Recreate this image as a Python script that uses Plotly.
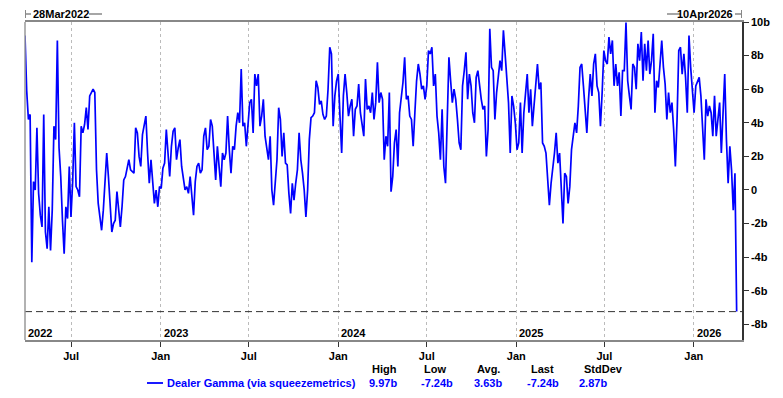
import pandas as pd
import plotly.graph_objects as go

# ---- data (half-weekly readings, billions) ----
start_date = "2022-03-28"
end_date = "2026-04-10"
gamma_values = [
    9.2, 5.9, 4.2, 4.5, -4.3, 0.5, 0.0, 3.7, -0.2, -1.5,
    -2.2, 4.5, -2.5, -3.5, -1.0, -3.6, -1.2, 3.8, 3.0, 8.9,
    2.5, 0.8, -1.8, -3.8, -1.0, -1.7, 1.4, -1.6, 0.5, 4.0,
    0.2, 0.0, -0.4, 3.8, 3.4, 3.9, 4.9, 3.6, 5.6, 5.8,
    6.0, 5.8, 1.2, -0.8, -1.8, -2.4, -1.2, 0.5, 2.2, 0.8,
    -0.6, -2.5, -2.0, -1.8, -0.1, -1.2, -2.2, -1.0, 0.6, 0.8,
    1.4, 1.8, 1.2, 1.1, 1.0, 3.7, 3.4, 2.0, 1.4, 3.3,
    3.8, 4.4, 2.2, 0.4, 1.8, 0.5, -0.8, 0.0, -1.0, 0.2,
    0.1, 1.3, 1.6, 3.6, 2.4, 0.8, 2.6, 3.5, 3.7, 1.8,
    2.5, 3.0, 1.4, 0.8, 0.0, 0.2, -0.2, 0.8, -0.6, -1.5,
    0.5, 1.4, 1.6, 1.0, 1.2, 3.2, 3.7, 2.4, 2.6, 4.2,
    3.8, 1.8, 0.6, 2.6, 1.4, 0.2, 2.2, 1.8, 2.2, 4.4,
    2.4, 1.0, 2.6, 2.4, 3.8, 4.6, 4.0, 7.2, 3.8, 4.0,
    2.6, 4.2, 5.2, 5.4, 3.4, 6.9, 6.2, 6.9, 3.8, 4.4,
    5.4, 3.2, 2.6, 1.8, 3.2, 0.0, -0.9, 0.8, 1.8, 4.9,
    4.2, 2.0, 3.4, 1.6, 1.5, -0.2, -1.4, 0.4, -0.6, 0.4,
    1.2, 3.4, 1.8, 1.0, 0.0, -1.6, 0.0, 3.0, 4.3, 4.4,
    4.6, 6.5, 6.1, 5.1, 5.3, 4.5, 4.2, 4.4, 6.0, 8.5,
    8.1, 3.8, 5.6, 6.5, 6.9, 4.4, 2.2, 5.6, 6.9, 5.8,
    4.4, 5.0, 5.4, 3.2, 4.8, 5.0, 6.3, 4.6, 3.8, 3.2,
    6.6, 4.8, 5.0, 4.6, 5.8, 4.2, 5.2, 7.6, 5.2, 5.8,
    5.4, 1.8, 3.2, 2.6, 5.8, -0.1, 0.8, 2.8, 3.6, 1.4,
    4.6, 5.6, 6.4, 7.9, 5.4, 5.6, 4.4, 4.2, 2.6, 4.6,
    6.5, 7.5, 6.9, 6.0, 6.2, 5.4, 6.2, 8.3, 8.1, 8.5,
    6.2, 6.9, 4.4, 3.4, 1.8, 4.8, 1.4, 0.4, 4.6, 7.9,
    6.5, 5.2, 6.0, 5.4, 4.2, 2.8, 2.4, 6.2, 7.1, 8.2,
    5.4, 6.9, 6.2, 4.6, 4.0, 6.7, 7.1, 6.2, 5.4, 4.8,
    5.0, 2.0, 3.6, 9.6, 7.3, 7.1, 4.2, 5.8, 6.9, 7.7,
    7.1, 9.5, 8.1, 6.9, 5.2, 2.2, 5.6, 5.0, 4.0, 2.4,
    2.8, 5.2, 2.2, 4.6, 5.8, 6.9, 4.6, 6.0, 3.8, 5.0,
    6.2, 7.5, 6.0, 6.4, 2.8, 2.6, 2.2, 0.6, -0.9, 0.4,
    1.2, 2.2, 3.4, 1.6, 2.2, -0.2, -2.0, 1.0, 0.8, -0.8,
    0.2, 2.4, 3.4, 4.0, 3.4, 5.0, 7.3, 7.5, 6.2, 5.0,
    3.4, 5.4, 6.9, 5.6, 7.5, 8.1, 6.2, 5.8, 3.8, 5.8,
    8.3, 7.7, 7.5, 9.1, 8.1, 8.9, 6.2, 7.5, 6.2, 7.0,
    4.4, 7.1, 7.1, 9.97, 6.5, 5.6, 4.8, 7.5, 7.3, 6.0,
    8.7, 7.7, 9.4, 6.5, 8.7, 7.1, 8.9, 6.9, 7.7, 9.3,
    4.6, 6.5, 6.1, 7.5, 8.9, 7.3, 6.3, 4.2, 5.8, 4.6,
    5.2, 3.6, 1.4, 4.2, 8.3, 8.5, 6.9, 8.1, 6.7, 4.6,
    9.2, 7.3, 6.1, 4.6, 6.2, 6.5, 6.7, 5.6, 3.2, 1.8,
    5.4, 4.4, 5.0, 4.6, 3.2, 5.6, 3.2, 4.2, 5.2, 2.2,
    4.8, 6.9, 3.0, 0.4, 2.6, 1.2, -1.2, 1.0, -7.24,
]
gamma_dates = pd.date_range(start_date, periods=len(gamma_values), freq="84h")

series_name = "Dealer Gamma (via squeezemetrics)"
stat_headers = ["High", "Low", "Avg.", "Last", "StdDev"]
stat_values = ["9.97b", "-7.24b", "3.63b", "-7.24b", "2.87b"]

x_tick_dates = ["2022-07-01", "2023-01-01", "2023-07-01", "2024-01-01", "2024-07-01",
                "2025-01-01", "2025-07-01", "2026-01-01"]
x_tick_text = ["Jul", "Jan", "Jul", "Jan", "Jul", "Jan", "Jul", "Jan"]
year_labels = ["2022", "2023", "2024", "2025", "2026"]
year_dates = [start_date, "2023-01-01", "2024-01-01", "2025-01-01", "2026-01-01"]
y_tick_vals = [-8, -6, -4, -2, 0, 2, 4, 6, 8, 10]
y_tick_text = ["-8b", "-6b", "-4b", "-2b", "0", "2b", "4b", "6b", "8b", "10b"]
top_left_label = "28Mar2022"
top_right_label = "10Apr2026"

# ---- layout geometry (page pixels; page body has an 8px margin) ----
OFF = 8
W, H = 783 - OFF, 398 - OFF
L, R, T, B = 25, 742, 22, 340   # target plot-area edges in page pixels
FONT = "Liberation Sans"
BLUE = "#0000FF"


def px(xp):
    return (xp - L) / (R - L)


def py(yp):
    return (B - yp) / (B - T)


fig = go.Figure()
fig.add_trace(go.Scatter(
    x=gamma_dates, y=gamma_values, mode="lines",
    line=dict(color=BLUE, width=1.7), showlegend=False, hoverinfo="skip",
))

last_value = gamma_values[-1]

shapes = []
shapes.append(dict(type="line", xref="paper", yref="y", x0=0, x1=1, y0=last_value, y1=last_value,
                   line=dict(color="#333333", width=1, dash="7px,4px")))
shapes.append(dict(type="line", xref="paper", yref="paper", x0=0, x1=0, y0=0, y1=1,
                   line=dict(color="#999999", width=1.5)))
for (a, b_) in [(25, 31), (89, 102), (667, 680), (735, 742)]:
    shapes.append(dict(type="line", xref="paper", yref="paper", x0=px(a), x1=px(b_),
                       y0=py(14), y1=py(14), line=dict(color="#888888", width=1.5)))
for xx in [25.5, 741.5]:
    shapes.append(dict(type="line", xref="paper", yref="paper", x0=px(xx), x1=px(xx),
                       y0=py(10), y1=py(18), line=dict(color="#888888", width=1)))
shapes.append(dict(type="line", xref="paper", yref="paper", x0=px(147), x1=px(163),
                   y0=py(383), y1=py(383), line=dict(color=BLUE, width=1.8)))

annotations = []
annotations.append(dict(text=top_left_label, xref="paper", yref="paper", x=px(31), y=py(14),
                        xanchor="left", yanchor="middle", showarrow=False,
                        font=dict(family=FONT, size=11, color="#000000", weight="bold")))
annotations.append(dict(text=top_right_label, xref="paper", yref="paper", x=px(735), y=py(14),
                        xanchor="right", yanchor="middle", showarrow=False,
                        font=dict(family=FONT, size=11, color="#000000", weight="bold")))
for lab, d in zip(year_labels, year_dates):
    annotations.append(dict(text=lab, xref="x", yref="paper", x=d, y=py(333),
                            xanchor="left", yanchor="middle", xshift=1, showarrow=False,
                            font=dict(family=FONT, size=11, color="#000000", weight="bold")))
annotations.append(dict(text=series_name, xref="paper", yref="paper", x=px(165), y=py(383),
                        xanchor="left", yanchor="middle", showarrow=False,
                        font=dict(family=FONT, size=11, color=BLUE, weight="bold")))
head_x = [370, 422, 475, 529, 582]
val_x = [367, 419, 472, 525, 577]
for hdr, val, hx, vx in zip(stat_headers, stat_values, head_x, val_x):
    annotations.append(dict(text=hdr, xref="paper", yref="paper", x=px(hx), y=py(369),
                            xanchor="left", yanchor="middle", showarrow=False,
                            font=dict(family=FONT, size=11, color="#000000", weight="bold")))
    annotations.append(dict(text=val, xref="paper", yref="paper", x=px(vx), y=py(383),
                            xanchor="left", yanchor="middle", showarrow=False,
                            font=dict(family=FONT, size=11, color=BLUE, weight="bold")))

fig.update_layout(
    width=W, height=H,
    margin=dict(l=L - OFF, r=783 - R, t=T - OFF, b=398 - B, pad=0, autoexpand=False),
    paper_bgcolor="white", plot_bgcolor="white",
    font=dict(family=FONT, size=11, color="#000000"),
    shapes=shapes, annotations=annotations,
    xaxis=dict(
        type="date", range=[start_date, end_date],
        tickvals=x_tick_dates, ticktext=x_tick_text,
        ticks="outside", ticklen=5, tickcolor="#333333", tickwidth=1,
        showgrid=True, gridcolor="#bbbbbb", griddash="dot", gridwidth=1,
        showline=True, linecolor="#888888", linewidth=1.5, mirror=True,
        tickfont=dict(family=FONT, size=11, color="#000000", weight="bold"),
        zeroline=False, fixedrange=True, automargin=False,
    ),
    yaxis=dict(
        side="right", range=[-8.93, 10],
        tickvals=y_tick_vals, ticktext=y_tick_text,
        ticks="outside", ticklen=5, tickcolor="#333333",
        showgrid=False, zeroline=False,
        showline=True, linecolor="#333333", linewidth=1.5,
        tickfont=dict(family=FONT, size=11, color="#000000", weight="bold"),
        fixedrange=True, automargin=False,
    ),
)

fig.write_html("out.html")
